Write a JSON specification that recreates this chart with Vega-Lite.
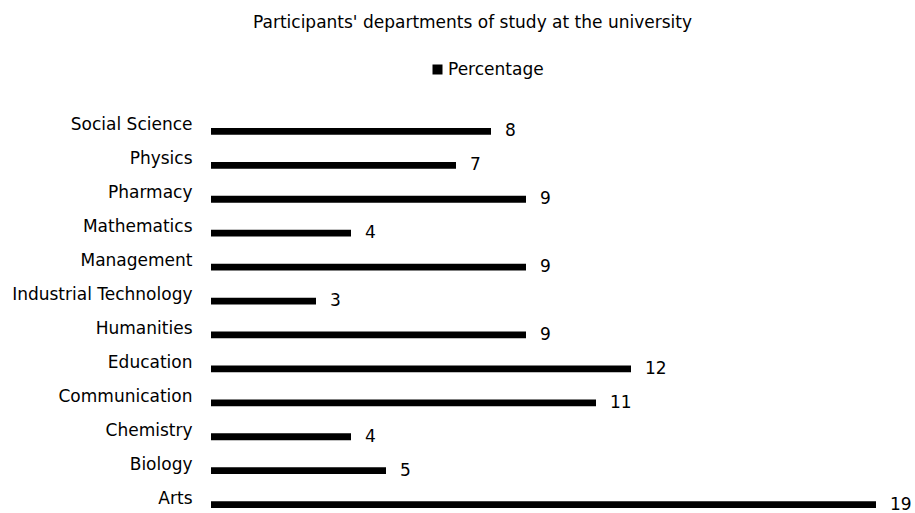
{
  "$schema": "https://vega.github.io/schema/vega-lite/v6.json",
  "autosize": {"type": "none"},
  "width": 665,
  "height": 380,
  "padding": {"left": 211, "top": 128, "right": 39, "bottom": 5},
  "background": "white",
  "title": {
    "text": "Participants' departments of study at the university",
    "anchor": "middle",
    "dx": -71,
    "offset": 29,
    "font": "DejaVu Sans",
    "fontSize": 17,
    "fontWeight": "normal",
    "color": "#000000"
  },
  "data": {
    "values": [
      {"department": "Social Science", "series": "Percentage", "value": 8},
      {"department": "Physics", "series": "Percentage", "value": 7},
      {"department": "Pharmacy", "series": "Percentage", "value": 9},
      {"department": "Mathematics", "series": "Percentage", "value": 4},
      {"department": "Management", "series": "Percentage", "value": 9},
      {"department": "Industrial Technology", "series": "Percentage", "value": 3},
      {"department": "Humanities", "series": "Percentage", "value": 9},
      {"department": "Education", "series": "Percentage", "value": 12},
      {"department": "Communication", "series": "Percentage", "value": 11},
      {"department": "Chemistry", "series": "Percentage", "value": 4},
      {"department": "Biology", "series": "Percentage", "value": 5},
      {"department": "Arts", "series": "Percentage", "value": 19}
    ]
  },
  "encoding": {
    "y": {
      "field": "department",
      "type": "nominal",
      "sort": null,
      "scale": {"paddingInner": 0.8, "paddingOuter": 0},
      "axis": {
        "title": null,
        "domain": false,
        "ticks": false,
        "labelPadding": 19,
        "labelOffset": -6,
        "labelLimit": 400,
        "labelFont": "DejaVu Sans",
        "labelFontSize": 17,
        "labelColor": "#000000"
      }
    },
    "x": {
      "field": "value",
      "type": "quantitative",
      "scale": {"domain": [0, 19], "nice": false},
      "axis": null
    }
  },
  "layer": [
    {
      "mark": {"type": "bar", "color": "#000000"},
      "encoding": {
        "color": {
          "field": "series",
          "type": "nominal",
          "scale": {"range": ["#000000"]},
          "legend": {
            "title": null,
            "orient": "none",
            "legendX": 218,
            "legendY": -67,
            "symbolType": "square",
            "symbolSize": 100,
            "symbolStrokeWidth": 0,
            "labelFont": "DejaVu Sans",
            "labelFontSize": 17,
            "labelColor": "#000000",
            "labelOffset": 2
          }
        }
      }
    },
    {
      "mark": {
        "type": "text",
        "align": "left",
        "baseline": "middle",
        "dx": 14,
        "dy": 0,
        "font": "DejaVu Sans",
        "fontSize": 17,
        "color": "#000000"
      },
      "encoding": {"text": {"field": "value", "type": "quantitative"}}
    }
  ],
  "config": {"view": {"stroke": null}}
}
